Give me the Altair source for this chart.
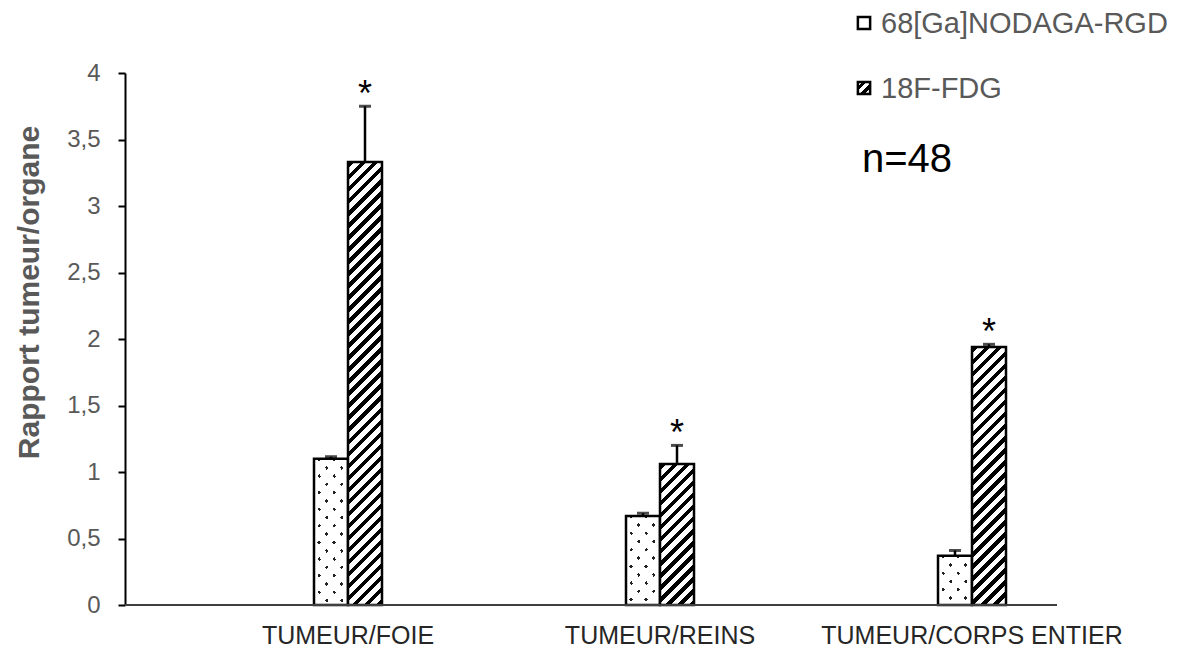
import math
import altair as alt
import pandas as pd

# ---------------- data ----------------
categories = ["TUMEUR/FOIE", "TUMEUR/REINS", "TUMEUR/CORPS ENTIER"]
series = ["68[Ga]NODAGA-RGD", "18F-FDG"]
nodaga = [1.10, 0.67, 0.37]
nodaga_err = [0.015, 0.02, 0.04]
fdg = [3.33, 1.06, 1.94]
fdg_err = [0.42, 0.14, 0.02]
signif = ["*", "*", "*"]
y_ticks = [0, 0.5, 1, 1.5, 2, 2.5, 3, 3.5, 4]
y_title = "Rapport tumeur/organe"
n_label = "n=48"

# ---------------- style constants ----------------
W, H = 932, 532
YMAX = 4
BAR_W = 34.0
FONT = "Liberation Sans"

rows = []
for i, c in enumerate(categories):
    rows.append({"cat": c, "series": series[0], "v": nodaga[i], "e": nodaga_err[i], "sig": ""})
    rows.append({"cat": c, "series": series[1], "v": fdg[i], "e": fdg_err[i], "sig": signif[i]})
df = pd.DataFrame(rows)


def stripes(w, h, n, period, duty, on, off, phase=0.0):
    """Linear gradient (bbox units) giving stripes perpendicular to unit vector n."""
    nx, ny = n
    g = (nx * w, ny * h)
    corners = [(0, 0), (1, 0), (0, 1), (1, 1)]
    s = [u * g[0] + v * g[1] for u, v in corners]
    imin = min(range(4), key=lambda k: s[k])
    smin, smax = min(s), max(s)
    D = smax - smin
    gg = g[0] ** 2 + g[1] ** 2
    k = D / gg
    p1 = corners[imin]
    p2 = (p1[0] + k * g[0], p1[1] + k * g[1])
    stops = [(0.0, off)]
    m0 = math.floor((smin - phase) / period) - 1
    m1 = math.ceil((smax - phase) / period) + 1
    for m in range(m0, m1 + 1):
        a = m * period + phase
        b = a + duty * period
        a2, b2 = max(a, smin), min(b, smax)
        if b2 <= a2:
            continue
        oa = min(1.0, max(0.0, (a2 - smin) / D))
        ob = min(1.0, max(0.0, (b2 - smin) / D))
        stops += [(oa, off), (oa, on), (ob, on), (ob, off)]
    stops.append((1.0, off))
    return alt.LinearGradient(
        gradient="linear",
        stops=[alt.GradientStop(color=c, offset=round(o, 6)) for o, c in stops],
        x1=p1[0], y1=p1[1], x2=p2[0], y2=p2[1],
    )


def px_h(v):
    return v / YMAX * H


HATCH_N = (1 / math.sqrt(2), 1 / math.sqrt(2))
la = math.hypot(7.5, 8.3)
DOT_N1 = (8.3 / la, -7.5 / la)
DOT_N2 = (8.3 / la, 7.5 / la)
DOT_P = 15 * 8.3 / la

x_scale = alt.Scale(domain=categories, range=[67, 1003], paddingInner=0, paddingOuter=0)
x_axis = alt.Axis(
    title=None, domain=False, ticks=False, labelAngle=0, labelLimit=0,
    labelFont=FONT, labelFontSize=25, labelColor="#262626", labelPadding=18,
)
xo_scale = alt.Scale(domain=series, range=[122, 190], paddingInner=0, paddingOuter=0)
y_scale = alt.Scale(domain=[0, YMAX], nice=False, zero=True)
y_axis = alt.Axis(
    title=y_title, values=y_ticks, grid=False,
    labelExpr="replace(format(datum.value, '~g'), '.', ',')",
    labelFont=FONT, labelFontSize=24, labelColor="#595959", labelPadding=18,
    domainColor="black", domainWidth=2, tickColor="black", tickWidth=2, tickSize=7,
    titleFont=FONT, titleFontSize=30, titleFontWeight="bold", titleColor="#595959",
    titleX=-96, titleY=219, titleAngle=270, titleAlign="center", titleBaseline="middle",
)


def X():
    return alt.X("cat:N", sort=categories, scale=x_scale, axis=x_axis)


def XO():
    return alt.XOffset("series:N", sort=series, scale=xo_scale)


def Y(field):
    return alt.Y(field, scale=y_scale, axis=y_axis, title=y_title)


base = alt.Chart(df)
layers = []

for i, c in enumerate(categories):
    # dotted bars (NODAGA)
    h = px_h(nodaga[i])
    g1 = stripes(BAR_W, h, DOT_N1, DOT_P, 0.24, "#222222", "white", phase=2.0)
    g2 = stripes(BAR_W, h, DOT_N2, DOT_P, 0.24, "rgba(255,255,255,0)", "white", phase=3.0)
    sel = base.transform_filter((alt.datum.cat == c) & (alt.datum.series == series[0]))
    layers.append(sel.mark_bar(fill=g1, strokeWidth=0).encode(x=X(), xOffset=XO(), y=Y("v:Q")))
    layers.append(sel.mark_bar(fill=g2, stroke="black", strokeWidth=2.5).encode(x=X(), xOffset=XO(), y=Y("v:Q")))
    # hatched bars (FDG)
    h = px_h(fdg[i])
    gh = stripes(BAR_W, h, HATCH_N, 8.5, 0.45, "black", "white", phase=1.0)
    sel2 = base.transform_filter((alt.datum.cat == c) & (alt.datum.series == series[1]))
    layers.append(sel2.mark_bar(fill=gh, stroke="black", strokeWidth=2.5).encode(x=X(), xOffset=XO(), y=Y("v:Q")))

err = base.transform_calculate(top="datum.v + datum.e")
layers.append(
    err.mark_rule(color="black", strokeWidth=2.5).encode(
        x=X(), xOffset=XO(), y=Y("v:Q"), y2="top:Q"
    )
)
layers.append(
    err.mark_tick(color="black", size=12, thickness=3, orient="horizontal").encode(
        x=X(), xOffset=XO(), y=Y("top:Q")
    )
)
layers.append(
    err.transform_filter("datum.sig != ''").mark_text(
        font=FONT, fontSize=36, color="black", baseline="alphabetic", dy=0
    ).encode(x=X(), xOffset=XO(), y=Y("top:Q"), text="sig:N")
)

# baseline (x axis line)
layers.append(
    alt.Chart(pd.DataFrame({"z": [0]})).mark_rule(color="#404040", strokeWidth=2).encode(
        x=alt.value(0), x2=alt.value(W), y=Y("z:Q")
    )
)

# legend
leg_pos = [-50, 15]
sym_fill = ["white", stripes(12, 12, HATCH_N, 6.5, 0.5, "black", "white", phase=3.0)]
for k, s in enumerate(series):
    d = alt.Chart(pd.DataFrame({"s": [s]}))
    layers.append(
        d.mark_point(shape="square", size=150, fill=sym_fill[k], stroke="black",
                     strokeWidth=2.5, opacity=1, filled=True).encode(
            x=alt.value(739), y=alt.value(leg_pos[k])
        )
    )
    layers.append(
        d.mark_text(font=FONT, fontSize=29, color="#595959", align="left", baseline="middle").encode(
            x=alt.value(756), y=alt.value(leg_pos[k] + 1), text="s:N"
        )
    )
layers.append(
    alt.Chart(pd.DataFrame({"t": [n_label]})).mark_text(
        font=FONT, fontSize=40, color="black", align="left", baseline="alphabetic"
    ).encode(x=alt.value(737), y=alt.value(99), text="t:N")
)

chart = alt.layer(*layers).properties(
    width=W, height=H,
    padding={"left": 117, "top": 65, "right": 116, "bottom": 47},
    autosize=alt.AutoSizeParams(type="none"),
).configure_view(stroke=None)

chart.save("out.html", embed_options={"renderer": "svg", "actions": False})
